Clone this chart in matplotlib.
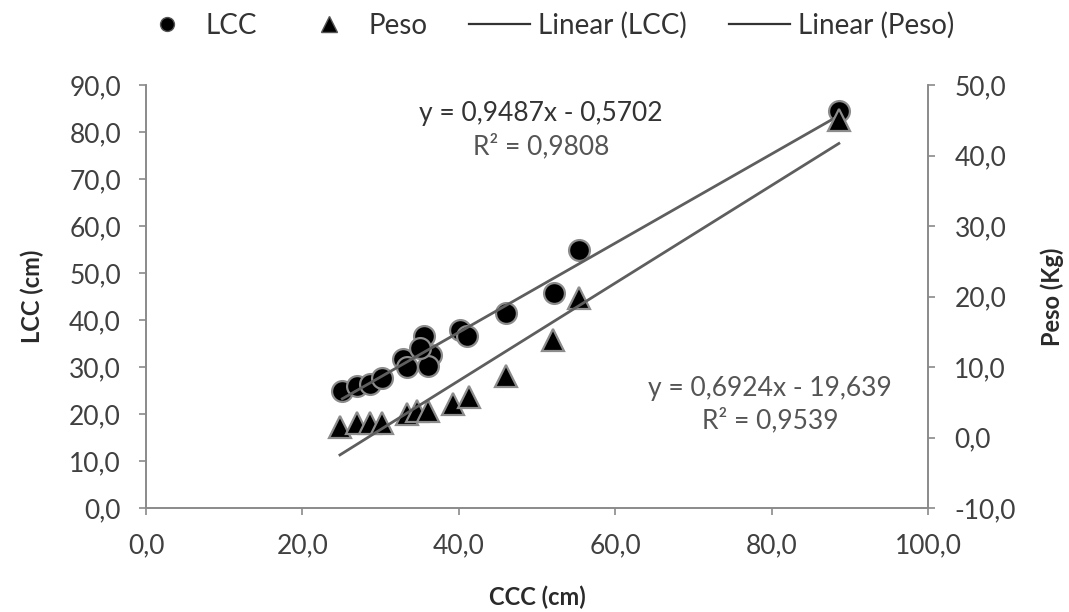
import matplotlib
matplotlib.use("Agg")
import matplotlib.pyplot as plt
import numpy as np
from matplotlib.ticker import FuncFormatter, MultipleLocator
from matplotlib.lines import Line2D

plt.rcParams['font.family'] = ['Lato', 'DejaVu Sans']

# Data
ccc_lcc = [25.1, 27.0, 28.7, 30.2, 32.8, 33.4, 35.5, 36.4, 36.0, 35.0, 40.2, 41.1, 46.0, 52.2, 55.4, 88.6]
lcc = [25.0, 25.9, 26.3, 27.6, 31.8, 30.1, 36.5, 32.5, 30.3, 34.0, 37.8, 36.5, 41.5, 45.7, 54.9, 84.4]
ccc_peso = [24.8, 27.0, 28.7, 30.2, 33.4, 34.7, 36.0, 39.3, 41.3, 46.0, 52.1, 55.4, 88.6]
peso = [1.5, 2.0, 2.0, 2.1, 3.4, 3.7, 3.7, 4.8, 5.8, 8.7, 13.8, 19.8, 45.1]

# Trendline coefficients shown on chart
lcc_fit = (0.9487, -0.5702)
peso_fit = (0.6924, -19.639)
eq_lcc = ["y = 0,9487x - 0,5702", "R² = 0,9808"]
eq_peso = ["y = 0,6924x - 19,639", "R² = 0,9539"]

tick_txt = '#404040'
axis_col = '#8a8a8a'
line_col = '#5e5e5e'
edge_col = '#8c8c8c'

fig = plt.figure(figsize=(10.69, 6.12), dpi=100)
ax = fig.add_axes([0.1366, 0.1699, 0.7315, 0.6912])
ax2 = ax.twinx()

fmt = FuncFormatter(lambda v, p: f"{v:.1f}".replace('.', ','))

ax.set_xlim(0, 100)
ax.set_ylim(0, 90)
ax2.set_ylim(-10, 50)
ax.xaxis.set_major_locator(MultipleLocator(20))
ax.yaxis.set_major_locator(MultipleLocator(10))
ax2.yaxis.set_major_locator(MultipleLocator(10))
for a in (ax, ax2):
    a.xaxis.set_major_formatter(fmt)
    a.yaxis.set_major_formatter(fmt)
    for s in a.spines.values():
        s.set_color(axis_col)
        s.set_linewidth(1.2)
    a.spines['top'].set_visible(False)
    a.tick_params(colors=axis_col, labelcolor=tick_txt, labelsize=19, length=5, width=1.2)

ax.tick_params(axis='y', pad=13)
ax2.tick_params(axis='y', pad=14)
ax.tick_params(axis='x', pad=13)

ax.set_xlabel('CCC (cm)', fontsize=17, fontweight='bold', color='#2a2a2a', labelpad=20)
ax.set_ylabel('LCC (cm)', fontsize=17, fontweight='bold', color='#2a2a2a', labelpad=18)
ax2.set_ylabel('Peso (Kg)', fontsize=17, fontweight='bold', color='#2a2a2a', labelpad=18)

# scatter
ax.plot(ccc_lcc, lcc, 'o', ms=15, mfc='black', mec=edge_col, mew=1.6, zorder=3)
ax2.plot(ccc_peso, peso, '^', ms=16, mfc='black', mec=edge_col, mew=1.6, zorder=3)

# trend lines
xl = np.array([min(ccc_lcc), max(ccc_lcc)])
ax.plot(xl, lcc_fit[0] * xl + lcc_fit[1], color=line_col, lw=2.0, zorder=4)
xp = np.array([min(ccc_peso), max(ccc_peso)])
ax2.plot(xp, peso_fit[0] * xp + peso_fit[1], color=line_col, lw=2.0, zorder=4)

# equations
ax.text(50.5, 84.0, eq_lcc[0], ha='center', va='center', fontsize=19, color='#333333')
ax.text(50.5, 77.0, eq_lcc[1], ha='center', va='center', fontsize=19, color='#555555')
ax.text(79.8, 25.5, eq_peso[0], ha='center', va='center', fontsize=19, color='#555555')
ax.text(79.8, 18.7, eq_peso[1], ha='center', va='center', fontsize=19, color='#555555')

# legend
handles = [
    Line2D([], [], marker='o', ls='none', ms=10, mfc='black', mec='#555555'),
    Line2D([], [], marker='^', ls='none', ms=11, mfc='black', mec='#555555'),
    Line2D([], [], color='#333333', lw=1.6),
    Line2D([], [], color='#333333', lw=1.6),
]
labels = ['LCC', 'Peso', 'Linear (LCC)', 'Linear (Peso)']
fig.legend(handles, labels, loc='center', bbox_to_anchor=(0.51, 0.958), ncol=4,
           frameon=False, fontsize=20, labelcolor='#333333', handlelength=2.2,
           columnspacing=1.5, handletextpad=0.3, borderpad=0)

fig.savefig('out.png', dpi=100)
